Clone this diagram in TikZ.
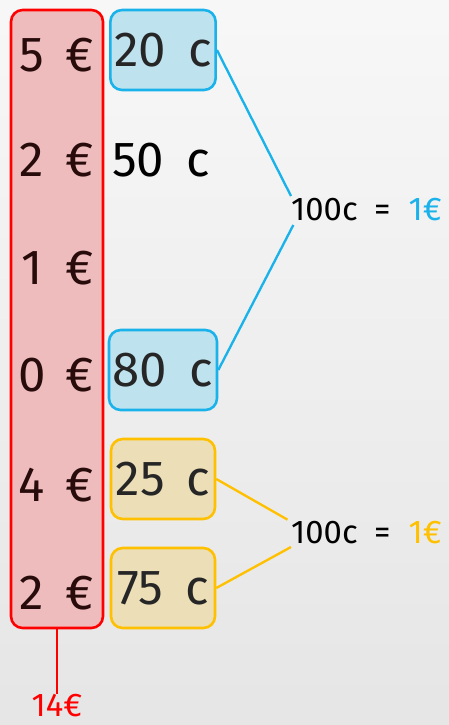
\documentclass[tikz,border=0pt]{standalone}
\usepackage{fontspec}
\setmainfont{Fira Sans}
\usepackage{xcolor}
\usetikzlibrary{positioning}

\definecolor{purseline}{RGB}{255,0,0}
\definecolor{pursefill}{RGB}{238,188,188}
\definecolor{blueline}{RGB}{26,178,234}
\definecolor{bluefill}{RGB}{190,226,238}
\definecolor{goldline}{RGB}{255,192,0}
\definecolor{goldfill}{RGB}{236,223,184}
\definecolor{inkdark}{RGB}{40,12,12}

\begin{document}
\begin{tikzpicture}[
    x=0.03cm, y=-0.03cm,
    big/.style={font=\fontsize{42}{44}\selectfont, inner sep=0pt, text=inkdark},
    small/.style={font=\fontsize{28}{30}\selectfont, inner sep=0pt},
    coin/.style={rectangle, draw, rounded corners=10pt, line width=2.2pt, minimum width=3.12cm, minimum height=2.4cm, font=\fontsize{42}{44}\selectfont, text=black!85},
    bluecoin/.style={coin, draw=blueline, fill=bluefill},
    goldcoin/.style={coin, draw=goldline, fill=goldfill},
    link/.style={line width=2pt}
]
\shade[top color=gray!6, bottom color=gray!20] (0,0) rectangle (449,725);
\useasboundingbox (0,0) rectangle (449,725);

% euros column
\node[draw=purseline, fill=pursefill, line width=2.2pt, rounded corners=10pt, minimum width=2.76cm, minimum height=18.54cm] (purse) at (57,319) {};
\node[big] (d1) at (32,55) {5};
\node[big] (s1) at (80,55) {€};
\node[big] (d2) at (32,160) {2};
\node[big] (s2) at (80,160) {€};
\node[big] (d3) at (32,268) {1};
\node[big] (s3) at (80,268) {€};
\node[big] (d4) at (32,375) {0};
\node[big] (s4) at (80,375) {€};
\node[big] (d5) at (32,485) {4};
\node[big] (s5) at (80,485) {€};
\node[big] (d6) at (32,593) {2};
\node[big] (s6) at (80,593) {€};

% cents column
\node[bluecoin] (c20) at (163,50) {20\hspace{0.45em}c};
\node[big, text=black] (c50) at (161,160) {50\hspace{0.45em}c};
\node[bluecoin] (c80) at (163,370) {80\hspace{0.45em}c};
\node[goldcoin] (c25) at (163,479) {25\hspace{0.45em}c};
\node[goldcoin] (c75) at (163,588) {75\hspace{0.45em}c};

% sums
\node[small, anchor=west] (blueeq) at (291,210) {100c\hspace{0.5em}=\hspace{0.55em}\textcolor{blueline}{1€}};
\node[small, anchor=west] (goldeq) at (291,533) {100c\hspace{0.5em}=\hspace{0.55em}\textcolor{goldline}{1€}};
\node[small, text=purseline] (total) at (57,706) {14€};

\draw[link, blueline] (c20.east) -- ([yshift=0.42cm]blueeq.west);
\draw[link, blueline] ([xshift=2pt, yshift=-0.45cm]blueeq.west) -- (c80.east);
\draw[link, goldline] (c25.east) -- ([xshift=-3pt, yshift=0.40cm]goldeq.west);
\draw[link, goldline] ([yshift=-0.42cm]goldeq.west) -- (c75.east);
\draw[link, purseline] (purse.south) -- (total.north);
\end{tikzpicture}
\end{document}
